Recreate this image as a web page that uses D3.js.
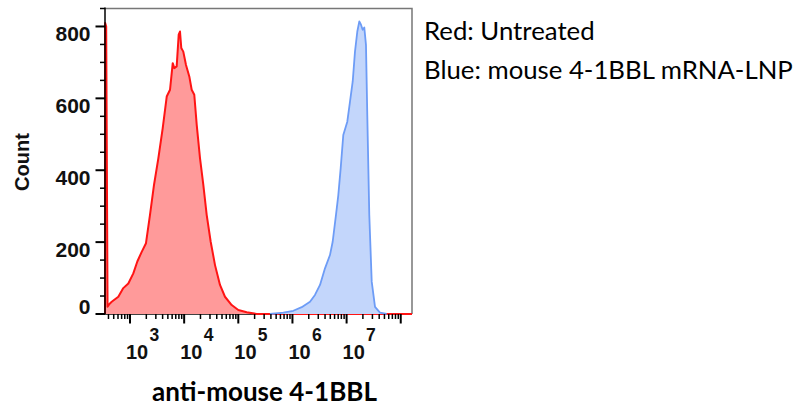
<!DOCTYPE html>
<html>
<head>
<meta charset="utf-8">
<script src="https://cdn.jsdelivr.net/npm/d3@7"></script>
<style>
  html, body { margin: 0; padding: 0; background: #fff; }
  svg { display: block; }
</style>
</head>
<body>
<svg id="chart" width="799" height="406"></svg>
<script>
// ---- data (log10 of fluorescence intensity, event count) ----
const redLog = [2.538, 2.540, 2.560, 2.585, 2.620, 2.662, 2.784, 2.876, 2.969, 3.061, 3.135, 3.216, 3.295, 3.369, 3.443, 3.523, 3.604, 3.678, 3.739, 3.789, 3.818, 3.862, 3.899, 3.923, 3.947, 3.984, 4.034, 4.095, 4.139, 4.187, 4.232, 4.293, 4.354, 4.416, 4.490, 4.570, 4.662, 4.754, 4.878, 5.000, 5.155, 5.340, 8.208];
const redCount = [0, 810, 800, 20, 28, 34, 48, 72, 85, 113, 146, 173, 197, 276, 359, 433, 517, 605, 624, 698, 684, 689, 777, 786, 740, 730, 693, 661, 624, 610, 526, 433, 359, 276, 201, 136, 81, 48, 25, 11, 5, 0, 0];
const blueLog = [5.585, 5.831, 6.016, 6.171, 6.324, 6.416, 6.509, 6.601, 6.693, 6.743, 6.804, 6.847, 6.891, 6.939, 7.013, 7.063, 7.113, 7.155, 7.198, 7.235, 7.266, 7.297, 7.327, 7.358, 7.382, 7.419, 7.464, 7.525, 7.617, 7.740];
const blueCount = [0, 4, 9, 19, 34, 53, 81, 127, 164, 201, 276, 331, 406, 498, 535, 591, 647, 730, 786, 814, 805, 791, 797, 749, 554, 276, 90, 20, 4, 0];

const xDomainLog = [2.538, 8.208];
const yDomain = [0, 850];
const yMajorTicks = [0, 200, 400, 600, 800];
const yMinorStep = 50;
const xMajorExponents = [3, 4, 5, 6, 7, 8];
const xLabelExponents = [3, 4, 5, 6, 7];

const legendLines = ["Red: Untreated", "Blue: mouse 4-1BBL mRNA-LNP"];
const xTitle = "anti-mouse 4-1BBL";
const yTitle = "Count";

// ---- layout ----
const L = 105, R = 412, T = 8.5, B = 314;
const svg = d3.select("#chart");

const x = d3.scaleLog().domain(xDomainLog.map(v => Math.pow(10, v))).range([L, R]);
const y = d3.scaleLinear().domain(yDomain).range([B, T]);

const toPts = (logs, counts) => logs.map((v, i) => [Math.pow(10, v), counts[i]]);
const red = toPts(redLog, redCount);
const blue = toPts(blueLog, blueCount);

const area = d3.area().x(d => x(d[0])).y0(y(0)).y1(d => y(d[1])).curve(d3.curveLinear);
const line = d3.line().x(d => x(d[0])).y(d => y(d[1])).curve(d3.curveLinear);

const AX = "'Liberation Sans', Arial, sans-serif";

// frame (top & right gray)
svg.append("path")
  .attr("d", `M${L},${T}H${R}V${B}`)
  .attr("fill", "none").attr("stroke", "#777").attr("stroke-width", 1.5);

// x axis line
svg.append("line").attr("x1", L - 9).attr("x2", R).attr("y1", B).attr("y2", B)
  .attr("stroke", "#000").attr("stroke-width", 1.5);

// histograms
svg.append("path").datum(red).attr("d", area).attr("fill", "#ff9a9a");
svg.append("path").datum(red).attr("d", line).attr("fill", "none")
  .attr("stroke", "#ff1414").attr("stroke-width", 2).attr("stroke-linejoin", "round");
svg.append("path").datum(blue).attr("d", area).attr("fill", "#c3d6fb");
svg.append("path").datum(blue).attr("d", line).attr("fill", "none")
  .attr("stroke", "#6d9cf6").attr("stroke-width", 1.8).attr("stroke-linejoin", "round");

// y axis line
svg.append("line").attr("x1", L).attr("x2", L).attr("y1", T - 1).attr("y2", B)
  .attr("stroke", "#000").attr("stroke-width", 1.5);

// y ticks
const yMinor = d3.range(yMinorStep, yDomain[1] + 1, yMinorStep).filter(v => !yMajorTicks.includes(v));
svg.append("g").selectAll("line").data(yMinor).join("line")
  .attr("x1", L - 5).attr("x2", L).attr("y1", d => y(d)).attr("y2", d => y(d))
  .attr("stroke", "#000").attr("stroke-width", 1.5);
svg.append("g").selectAll("line").data(yMajorTicks).join("line")
  .attr("x1", L - 9.5).attr("x2", L).attr("y1", d => y(d)).attr("y2", d => y(d))
  .attr("stroke", "#000").attr("stroke-width", 2);
svg.append("g").selectAll("text").data(yMajorTicks).join("text")
  .attr("x", L - 14.5)
  .attr("y", d => d === 0 ? y(d) - 0.5 : y(d) + 14.5)
  .attr("text-anchor", "end")
  .attr("font-family", AX)
  .attr("font-weight", "bold").attr("font-size", 21)
  .attr("fill", "#111")
  .text(d => d);

// x ticks
const xMinor = [];
for (let d = 2; d <= 8; d++) for (let k = 2; k <= 9; k++) {
  const v = k * Math.pow(10, d);
  if (v >= x.domain()[0] && v <= x.domain()[1]) xMinor.push(v);
}
svg.append("g").selectAll("line").data(xMinor).join("line")
  .attr("x1", d => x(d)).attr("x2", d => x(d)).attr("y1", B).attr("y2", B + 5)
  .attr("stroke", "#000").attr("stroke-width", 1.5);
svg.append("g").selectAll("line").data(xMajorExponents).join("line")
  .attr("x1", d => x(Math.pow(10, d))).attr("x2", d => x(Math.pow(10, d)))
  .attr("y1", B).attr("y2", B + 9.5)
  .attr("stroke", "#000").attr("stroke-width", 2);
const xl = svg.append("g").selectAll("g").data(xLabelExponents).join("g");
xl.append("text")
  .attr("x", d => x(Math.pow(10, d)) - 4).attr("y", 358.5)
  .attr("font-family", AX)
  .attr("font-weight", "bold").attr("font-size", 20).attr("fill", "#111")
  .text("10");
xl.append("text")
  .attr("x", d => x(Math.pow(10, d)) + 19.5).attr("y", 341)
  .attr("font-family", AX)
  .attr("font-weight", "bold").attr("font-size", 17.5).attr("fill", "#111")
  .text(d => d);

// axis titles
svg.append("text")
  .attr("transform", "translate(28.5,162) rotate(-90)")
  .attr("text-anchor", "middle")
  .attr("font-family", AX)
  .attr("font-weight", "bold").attr("font-size", 20).attr("fill", "#111")
  .text(yTitle);

function fit(sel, target) {
  const w = sel.node().getComputedTextLength();
  const s = parseFloat(sel.attr("font-size"));
  sel.attr("font-size", s * target / w);
}
const xt = svg.append("text")
  .attr("x", 264.5).attr("y", 401)
  .attr("text-anchor", "middle")
  .attr("font-family", "Lato, 'Open Sans', sans-serif")
  .attr("font-weight", "bold").attr("font-size", 20).attr("fill", "#000")
  .text(xTitle);
fit(xt, 225);

// legend text
const lg = svg.append("g").selectAll("text").data(legendLines).join("text")
  .attr("x", 424).attr("y", (d, i) => i === 0 ? 40 : 78.5)
  .attr("font-family", "Lato, 'Open Sans', sans-serif")
  .attr("font-size", 22).attr("fill", "#000")
  .text(d => d);
const lg2 = d3.select(lg.nodes()[1]);
const w2 = lg2.node().getComputedTextLength();
lg.attr("font-size", 22 * 369 / w2);
</script>
</body>
</html>
